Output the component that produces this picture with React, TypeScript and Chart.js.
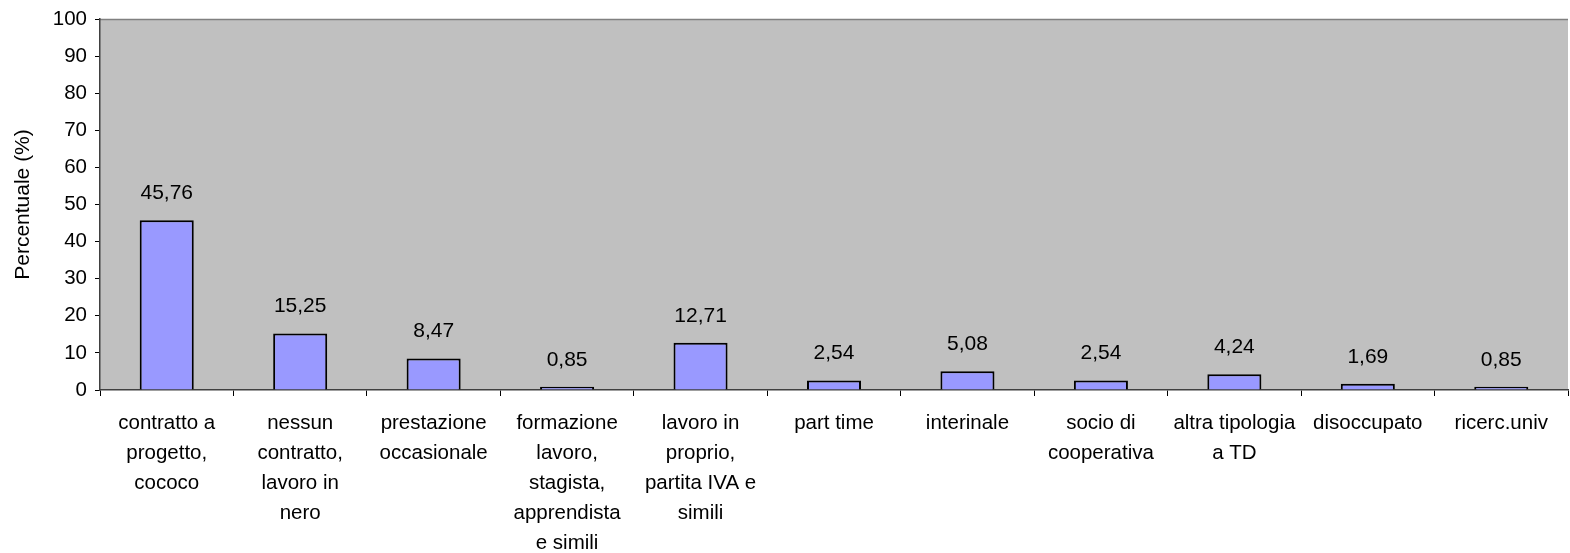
import React, { useEffect, useRef } from "react";
import { Chart, registerables } from "chart.js";

Chart.register(...registerables);

const categories: string[][] = [
  ["contratto a", "progetto,", "cococo"],
  ["nessun", "contratto,", "lavoro in", "nero"],
  ["prestazione", "occasionale"],
  ["formazione", "lavoro,", "stagista,", "apprendista", "e simili"],
  ["lavoro in", "proprio,", "partita IVA e", "simili"],
  ["part time"],
  ["interinale"],
  ["socio di", "cooperativa"],
  ["altra tipologia", "a TD"],
  ["disoccupato"],
  ["ricerc.univ"],
];

const values: number[] = [45.76, 15.25, 8.47, 0.85, 12.71, 2.54, 5.08, 2.54, 4.24, 1.69, 0.85];
const valueLabels: string[] = ["45,76", "15,25", "8,47", "0,85", "12,71", "2,54", "5,08", "2,54", "4,24", "1,69", "0,85"];

const yTitle = "Percentuale (%)";
const FONT = "'Liberation Sans', Arial, sans-serif";

const bgPlugin = {
  id: "plotBg",
  beforeDraw(chart: any) {
    const { ctx, chartArea } = chart;
    ctx.save();
    ctx.fillStyle = "#C0C0C0";
    ctx.fillRect(chartArea.left, chartArea.top, chartArea.right - chartArea.left, chartArea.bottom - chartArea.top);
    ctx.strokeStyle = "#808080";
    ctx.lineWidth = 1.5;
    ctx.beginPath();
    ctx.moveTo(chartArea.left, chartArea.top + 0.5);
    ctx.lineTo(chartArea.right, chartArea.top + 0.5);
    ctx.stroke();
    ctx.restore();
  },
};

const labelPlugin = {
  id: "valueLabels",
  afterDatasetsDraw(chart: any) {
    const { ctx } = chart;
    const meta = chart.getDatasetMeta(0);
    ctx.save();
    ctx.font = `21px ${FONT}`;
    ctx.fillStyle = "#000";
    ctx.textAlign = "center";
    ctx.textBaseline = "middle";
    meta.data.forEach((bar: any, i: number) => {
      ctx.fillText(valueLabels[i], bar.x, bar.y - 27);
    });
    ctx.restore();
  },
};

export default function App() {
  const ref = useRef<HTMLCanvasElement>(null);
  useEffect(() => {
    if (!ref.current) return;
    const chart = new Chart(ref.current, {
      type: "bar",
      data: {
        labels: categories as any,
        datasets: [
          {
            data: values,
            backgroundColor: "#9999FF",
            borderColor: "#000000",
            borderWidth: 2,
            barPercentage: 0.405,
            categoryPercentage: 1,
          },
        ],
      },
      options: {
        animation: false,
        responsive: false,
        maintainAspectRatio: false,
        layout: { padding: { top: 19, right: 2, left: 0, bottom: 0 } },
        plugins: { legend: { display: false }, tooltip: { enabled: false } },
        scales: {
          x: {
            grid: {
              offset: true,
              drawOnChartArea: false,
              drawTicks: true,
              tickLength: 6,
              color: "#000",
            },
            border: { color: "#404040", width: 1.5 },
            ticks: {
              color: "#000",
              font: { family: FONT, size: 20.5, lineHeight: 1.47 },
              maxRotation: 0,
              autoSkip: false,
              padding: 12,
            },
            afterFit(scale: any) {
              scale.height = 163;
            },
          },
          y: {
            min: 0,
            max: 100,
            grid: {
              drawOnChartArea: false,
              drawTicks: true,
              tickLength: 5,
              color: "#000",
            },
            border: { color: "#404040", width: 1.5 },
            ticks: {
              stepSize: 10,
              color: "#000",
              font: { family: FONT, size: 20.5, lineHeight: 1 },
              padding: 8,
            },
            title: {
              display: true,
              text: yTitle,
              color: "#000",
              font: { family: FONT, size: 21 },
              padding: { top: 11, bottom: 0 },
            },
            afterFit(scale: any) {
              scale.width = 100;
            },
          },
        },
      },
      plugins: [bgPlugin, labelPlugin],
    });
    return () => chart.destroy();
  }, []);
  return (
    <div style={{ position: "fixed", left: 0, top: 0, width: 1570, height: 553, background: "#fff" }}>
      <canvas ref={ref} width={1570} height={553} style={{ width: 1570, height: 553 }} />
    </div>
  );
}
